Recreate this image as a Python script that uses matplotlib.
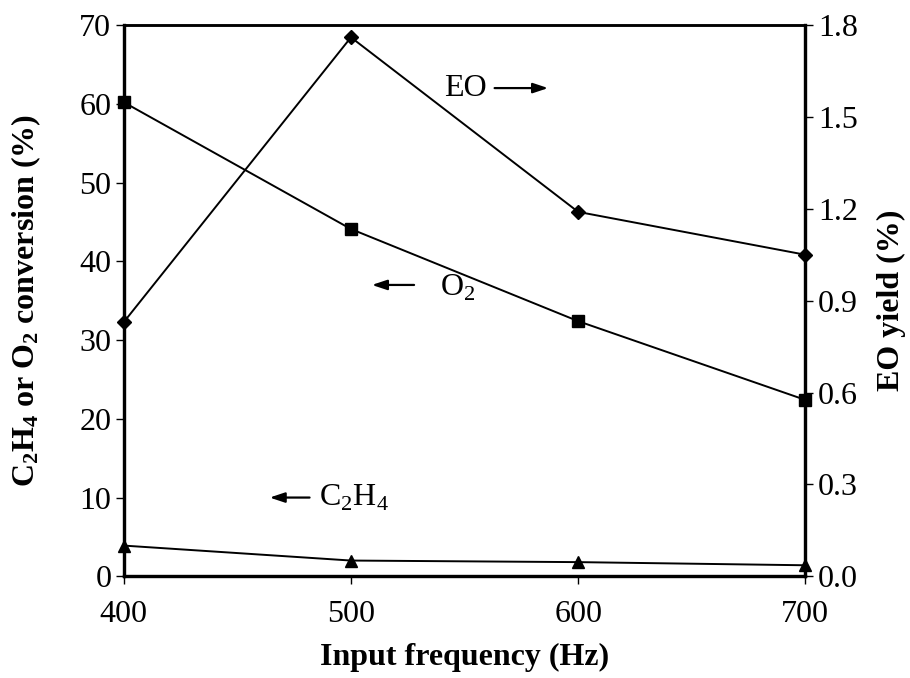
import matplotlib.pyplot as plt

plt.rcParams['font.family'] = ['Liberation Serif', 'DejaVu Serif']
plt.rcParams['mathtext.fontset'] = 'custom'
plt.rcParams['mathtext.rm'] = 'Liberation Serif'
plt.rcParams['mathtext.bf'] = 'Liberation Serif:bold'

# Datos
frecuencia = [400, 500, 600, 700]
conv_o2 = [60.2, 44.1, 32.4, 22.4]
conv_c2h4 = [3.9, 2.0, 1.8, 1.4]
rend_eo = [0.83, 1.76, 1.19, 1.05]

xticks = [400, 500, 600, 700]
yticks_izq = [0, 10, 20, 30, 40, 50, 60, 70]
yticks_der = [0.0, 0.3, 0.6, 0.9, 1.2, 1.5, 1.8]

fs = 23

fig = plt.figure(figsize=(9.1, 6.78), dpi=100)
ax = fig.add_axes([0.136, 0.150, 0.749, 0.813])
ax2 = ax.twinx()

ax.plot(frecuencia, conv_o2, color='black', lw=1.4, marker='s', ms=9, clip_on=False, zorder=5)
ax.plot(frecuencia, conv_c2h4, color='black', lw=1.4, marker='^', ms=8, clip_on=False, zorder=5)
ax2.plot(frecuencia, rend_eo, color='black', lw=1.4, marker='D', ms=7, clip_on=False, zorder=5)

ax.set_xlim(400, 700)
ax.set_ylim(0, 70)
ax2.set_ylim(0, 1.8)
ax.set_xticks(xticks)
ax.set_yticks(yticks_izq)
ax2.set_yticks(yticks_der)
ax2.set_yticklabels([f"{v:.1f}" for v in yticks_der])

for a in (ax, ax2):
    for s in a.spines.values():
        s.set_linewidth(2.3)
    a.spines['top'].set_linewidth(1.8)
    a.tick_params(direction='out', length=6, width=1, labelsize=fs, pad=3)
ax.tick_params(axis='x', pad=11)

ax.set_xlabel('Input frequency (Hz)', fontsize=fs, fontweight='bold', labelpad=10)
ax.set_ylabel(r'$\mathbf{C_2H_4}$ or $\mathbf{O_2}$ conversion (%)', fontsize=fs,
              fontweight='bold', labelpad=26)
ax2.set_ylabel('EO yield (%)', fontsize=fs, fontweight='bold', labelpad=14)

# Etiquetas con flechas
flecha = dict(arrowstyle='-|>,head_length=0.9,head_width=0.3', color='black', lw=1.6)
ax.text(541, 62, 'EO', fontsize=fs, va='center', ha='left')
ax.annotate('', xy=(588, 62), xytext=(562, 62), arrowprops=flecha)
ax.annotate('', xy=(508, 37), xytext=(529, 37), arrowprops=flecha)
ax.text(539, 36.7, r'O$_2$', fontsize=fs, va='center', ha='left')
ax.annotate('', xy=(463, 10), xytext=(483, 10), arrowprops=flecha)
ax.text(486, 10, r'C$_2$H$_4$', fontsize=fs, va='center', ha='left')

fig.savefig('out.png', dpi=100)
